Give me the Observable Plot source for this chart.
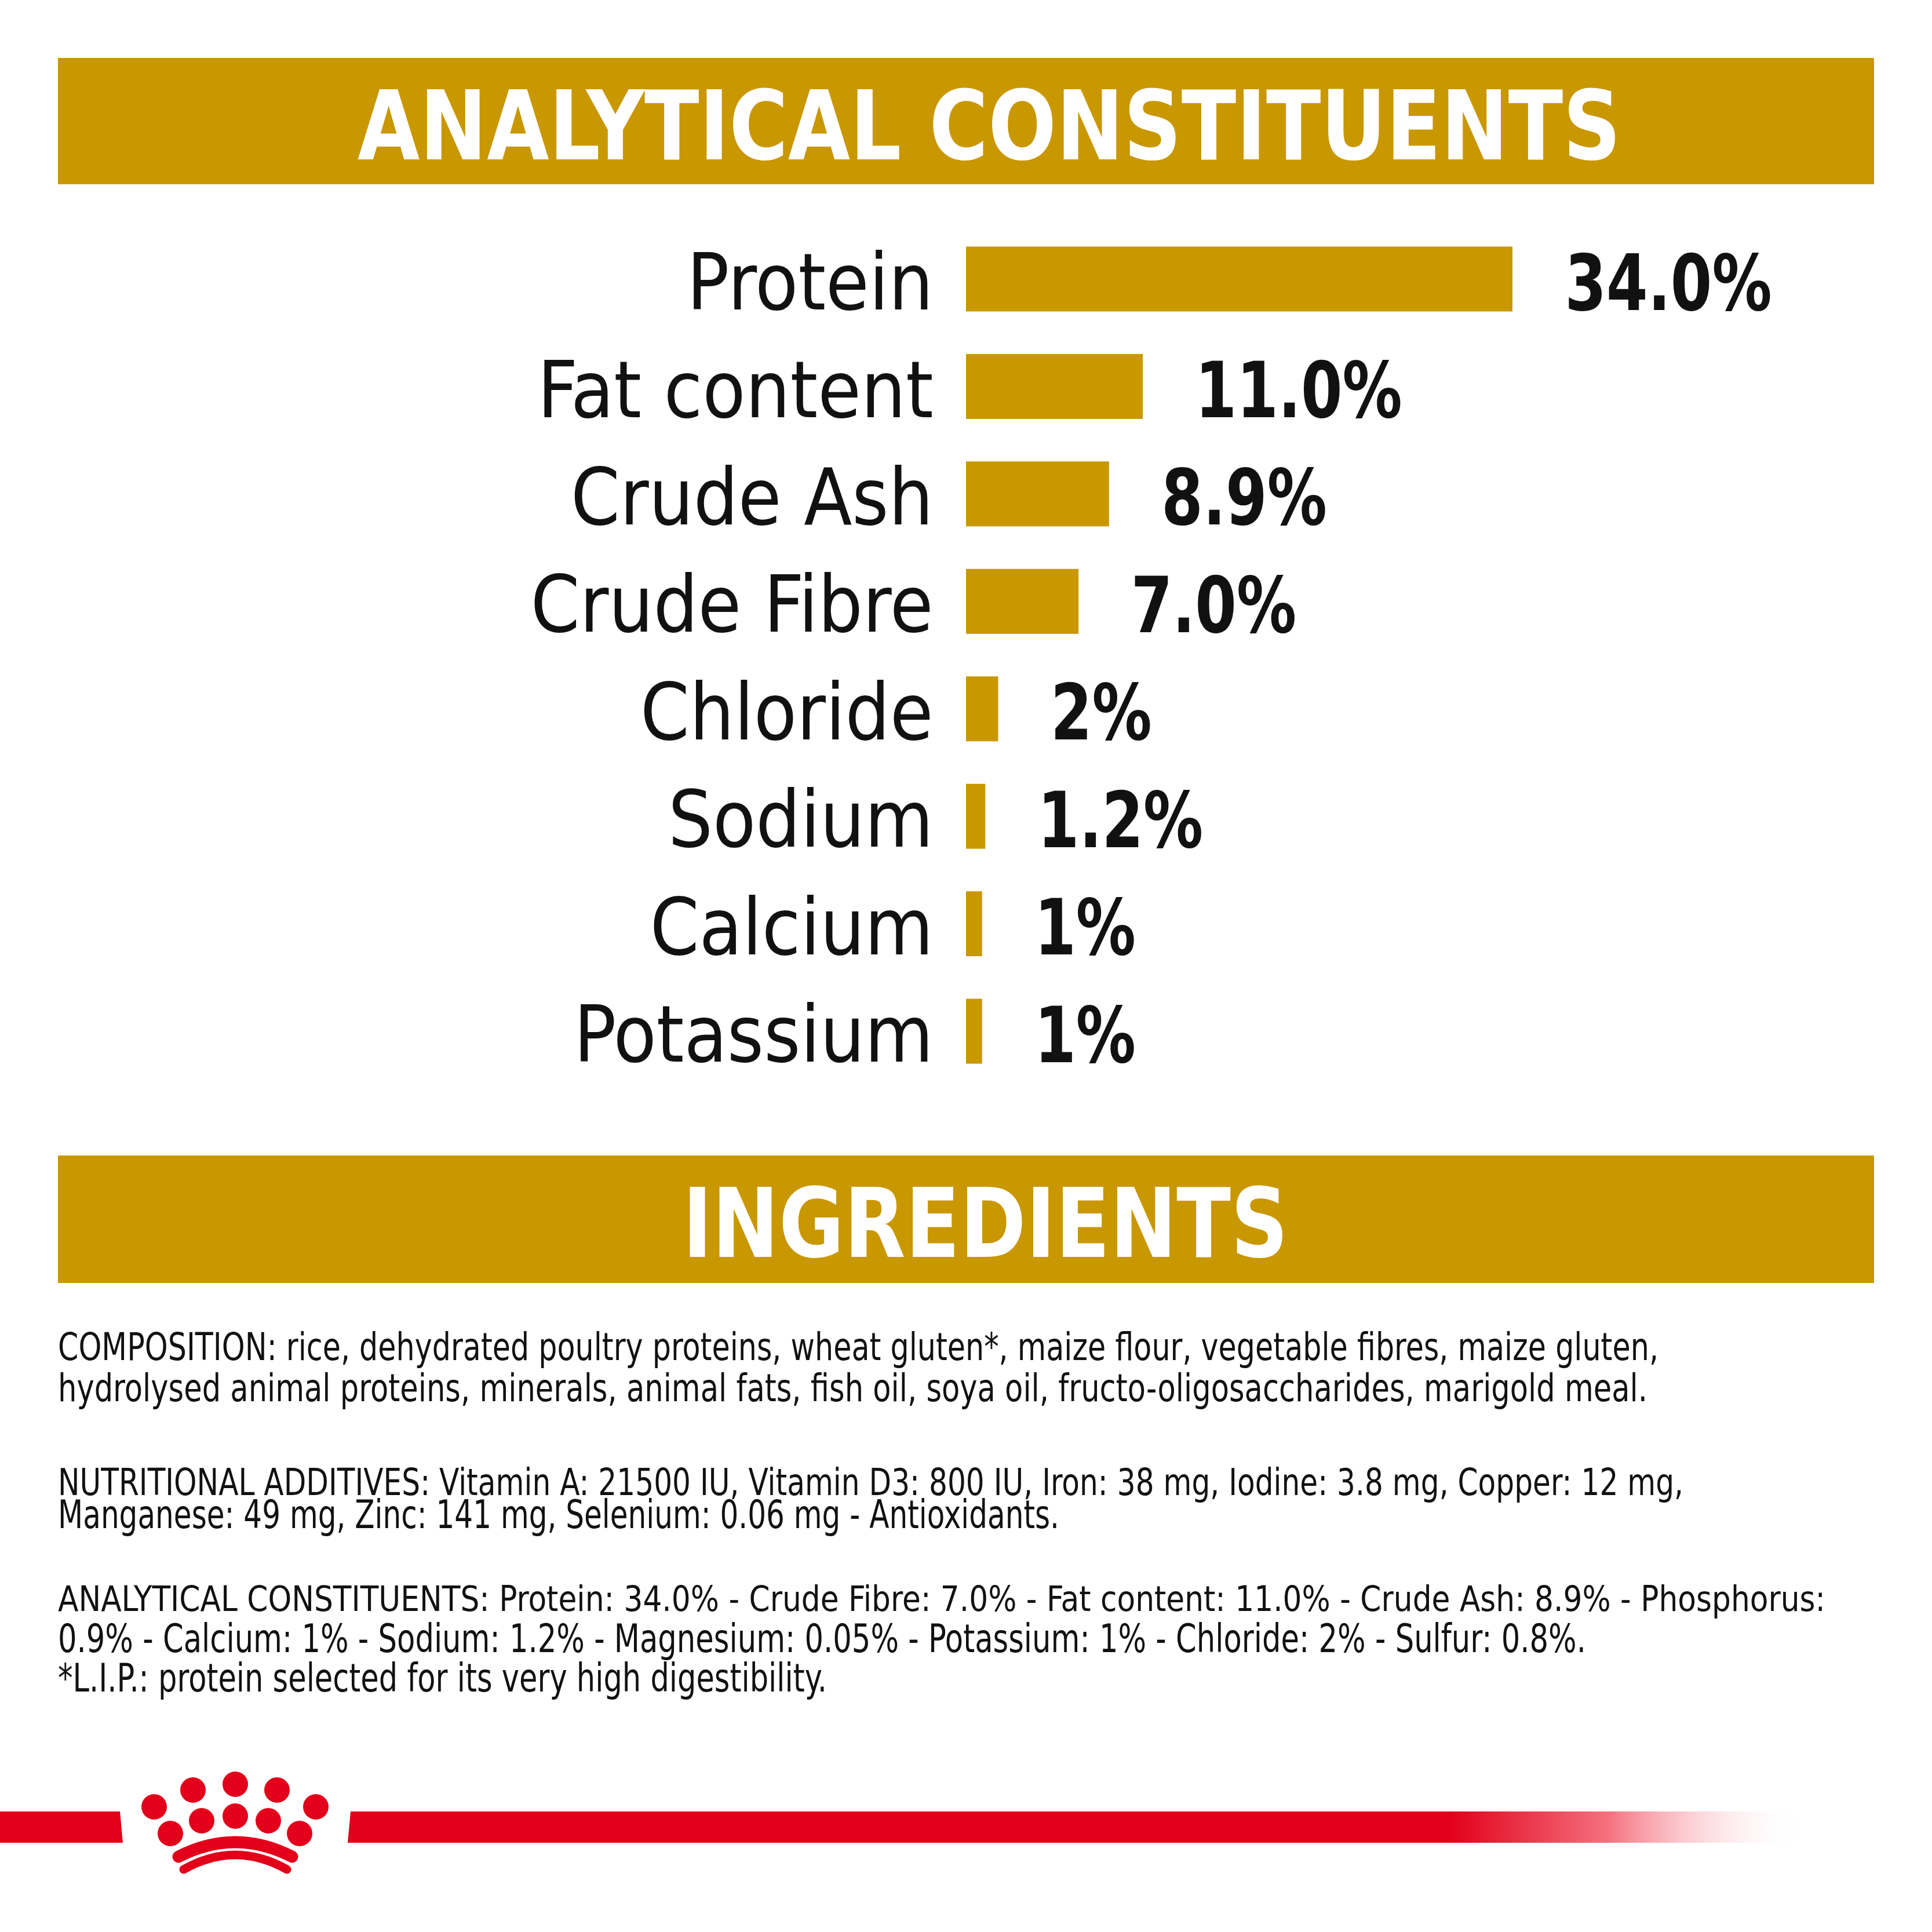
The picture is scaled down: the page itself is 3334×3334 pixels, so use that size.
<!DOCTYPE html>
<html>
<head>
<meta charset="utf-8">
<script src="https://cdn.jsdelivr.net/npm/d3@7"></script>
<script src="https://cdn.jsdelivr.net/npm/@observablehq/plot@0.6"></script>
<style>
  html, body { margin: 0; padding: 0; background: #fff; }
  #page { position: relative; width: 3334px; height: 3334px; background: #fff; overflow: hidden;
          font-family: "DejaVu Sans Condensed", "DejaVu Sans", sans-serif; font-stretch: condensed; }
  #deco { position: absolute; left: 0; top: 0; }
  #chart { position: absolute; left: 0; top: 330px; }
</style>
</head>
<body>
<div id="page">
  <svg id="deco" width="3334" height="3334" xmlns="http://www.w3.org/2000/svg"></svg>
  <div id="chart"></div>
</div>
<script>
// ---- data ----
const categories = ["Protein", "Fat content", "Crude Ash", "Crude Fibre", "Chloride", "Sodium", "Calcium", "Potassium"];
const values = [34.0, 11.0, 8.9, 7.0, 2, 1.2, 1, 1];
const valueLabels = ["34.0%", "11.0%", "8.9%", "7.0%", "2%", "1.2%", "1%", "1%"];

const titleText = "ANALYTICAL CONSTITUENTS";
const sectionText = "INGREDIENTS";
const bodyLines = [
  "COMPOSITION: rice, dehydrated poultry proteins, wheat gluten*, maize flour, vegetable fibres, maize gluten,",
  "hydrolysed animal proteins, minerals, animal fats, fish oil, soya oil, fructo-oligosaccharides, marigold meal.",
  "NUTRITIONAL ADDITIVES: Vitamin A: 21500 IU, Vitamin D3: 800 IU, Iron: 38 mg, Iodine: 3.8 mg, Copper: 12 mg,",
  "Manganese: 49 mg, Zinc: 141 mg, Selenium: 0.06 mg - Antioxidants.",
  "ANALYTICAL CONSTITUENTS: Protein: 34.0% - Crude Fibre: 7.0% - Fat content: 11.0% - Crude Ash: 8.9% - Phosphorus:",
  "0.9% - Calcium: 1% - Sodium: 1.2% - Magnesium: 0.05% - Potassium: 1% - Chloride: 2% - Sulfur: 0.8%.",
  "*L.I.P.: protein selected for its very high digestibility."
];

const GOLD = "#C99700";
const RED = "#E2001A";
const FONT = "'DejaVu Sans Condensed', 'DejaVu Sans', sans-serif";
const BODY_FONT = "'Liberation Sans Narrow', 'DejaVu Sans Condensed', 'DejaVu Sans', sans-serif";

// ---- decoration (bands, titles, body text, footer) ----
const NS = "http://www.w3.org/2000/svg";
const deco = document.getElementById("deco");
function el(tag, attrs, parent = deco) {
  const e = document.createElementNS(NS, tag);
  for (const k in attrs) e.setAttribute(k, attrs[k]);
  parent.appendChild(e);
  return e;
}
const defs = el("defs", {});
const grad = el("linearGradient", {id: "fade", gradientUnits: "userSpaceOnUse", x1: 2500, y1: 0, x2: 3110, y2: 0}, defs);
el("stop", {offset: "0", "stop-color": RED, "stop-opacity": 1}, grad);
el("stop", {offset: "0.45", "stop-color": "#F5707E", "stop-opacity": 1}, grad);
el("stop", {offset: "1", "stop-color": "#FFFFFF", "stop-opacity": 0}, grad);

// header bands
el("rect", {x: 100, y: 100, width: 3134, height: 218, fill: GOLD});
el("rect", {x: 100, y: 1994, width: 3134, height: 220, fill: GOLD});

const t1 = el("text", {x: 617, y: 275, fill: "#fff", "font-size": 166, "font-weight": "bold",
  "font-family": FONT, textLength: 2180, lengthAdjust: "spacingAndGlyphs"});
t1.textContent = titleText;
const t2 = el("text", {x: 1178, y: 2169, fill: "#fff", "font-size": 166, "font-weight": "bold",
  "font-family": FONT, textLength: 1045, lengthAdjust: "spacingAndGlyphs"});
t2.textContent = sectionText;

// body text lines
const lineY = [2347, 2418, 2580, 2637, 2780, 2851, 2919];
const lineW = [2762, 2743, 2805, 1728, 3050, 2637, 1327];
bodyLines.forEach((s, i) => {
  let fs = 68;
  const t = el("text", {x: 100, y: lineY[i], fill: "#111", "font-size": fs, "font-family": BODY_FONT});
  t.textContent = s;
  const natural = t.getComputedTextLength();
  const maxW = 3334 - 100 - 20;
  if (natural > maxW) {
    fs = fs * maxW / natural;
    t.setAttribute("font-size", fs.toFixed(1));
  }
  t.setAttribute("textLength", lineW[i]);
  t.setAttribute("lengthAdjust", "spacingAndGlyphs");
});

// footer stripe
el("polygon", {points: "0,3126 207,3126 212,3180 0,3180", fill: RED});
el("polygon", {points: "605,3126 2512,3126 2512,3180 600,3180", fill: RED});
el("rect", {x: 2500, y: 3126, width: 620, height: 54, fill: "url(#fade)"});

// crown logo
const dots = [[406, 3079], [333, 3089], [478, 3089], [266, 3118], [545, 3118],
              [348, 3142], [406, 3134], [463, 3142], [294, 3164], [517, 3164]];
dots.forEach(([cx, cy]) => el("circle", {cx, cy, r: 22, fill: RED}));
el("path", {d: "M 308 3204 Q 406 3154 504 3204", fill: "none", stroke: RED, "stroke-width": 21, "stroke-linecap": "round"});
el("path", {d: "M 317 3226 Q 406 3176 495 3226", fill: "none", stroke: RED, "stroke-width": 15, "stroke-linecap": "round"});

// ---- chart ----
const data = categories.map((c, i) => ({name: c, value: values[i], label: valueLabels[i]}));

const chart = Plot.plot({
  width: 3334,
  height: 1579,
  marginTop: 22,
  marginBottom: 0,
  marginLeft: 1667,
  marginRight: 724,
  style: {background: "transparent", fontFamily: FONT, overflow: "visible"},
  x: {domain: [0, 34], axis: null},
  y: {domain: categories, padding: 0.396, axis: null, round: false},
  marks: [
    Plot.barX(data, {x: "value", y: "name", fill: GOLD}),
    Plot.text(data, {x: 0, y: "name", text: "name", textAnchor: "end", dx: -57, dy: 9,
      fontSize: 135, fill: "#111"}),
    Plot.text(data, {x: "value", y: "name", text: "label", textAnchor: "start", dx: 90, dy: 10,
      fontSize: 133, fontWeight: "bold", fill: "#111", className: "vlabel"})
  ]
});
document.getElementById("chart").appendChild(chart);

// narrow the bold value labels a little (DIN-like condensed figures)
chart.querySelectorAll("g.vlabel text, .vlabel text").forEach(t => {
  const w = t.getComputedTextLength();
  if (w > 0) {
    t.setAttribute("textLength", (w * 0.86).toFixed(1));
    t.setAttribute("lengthAdjust", "spacingAndGlyphs");
  }
});
</script>
</body>
</html>
